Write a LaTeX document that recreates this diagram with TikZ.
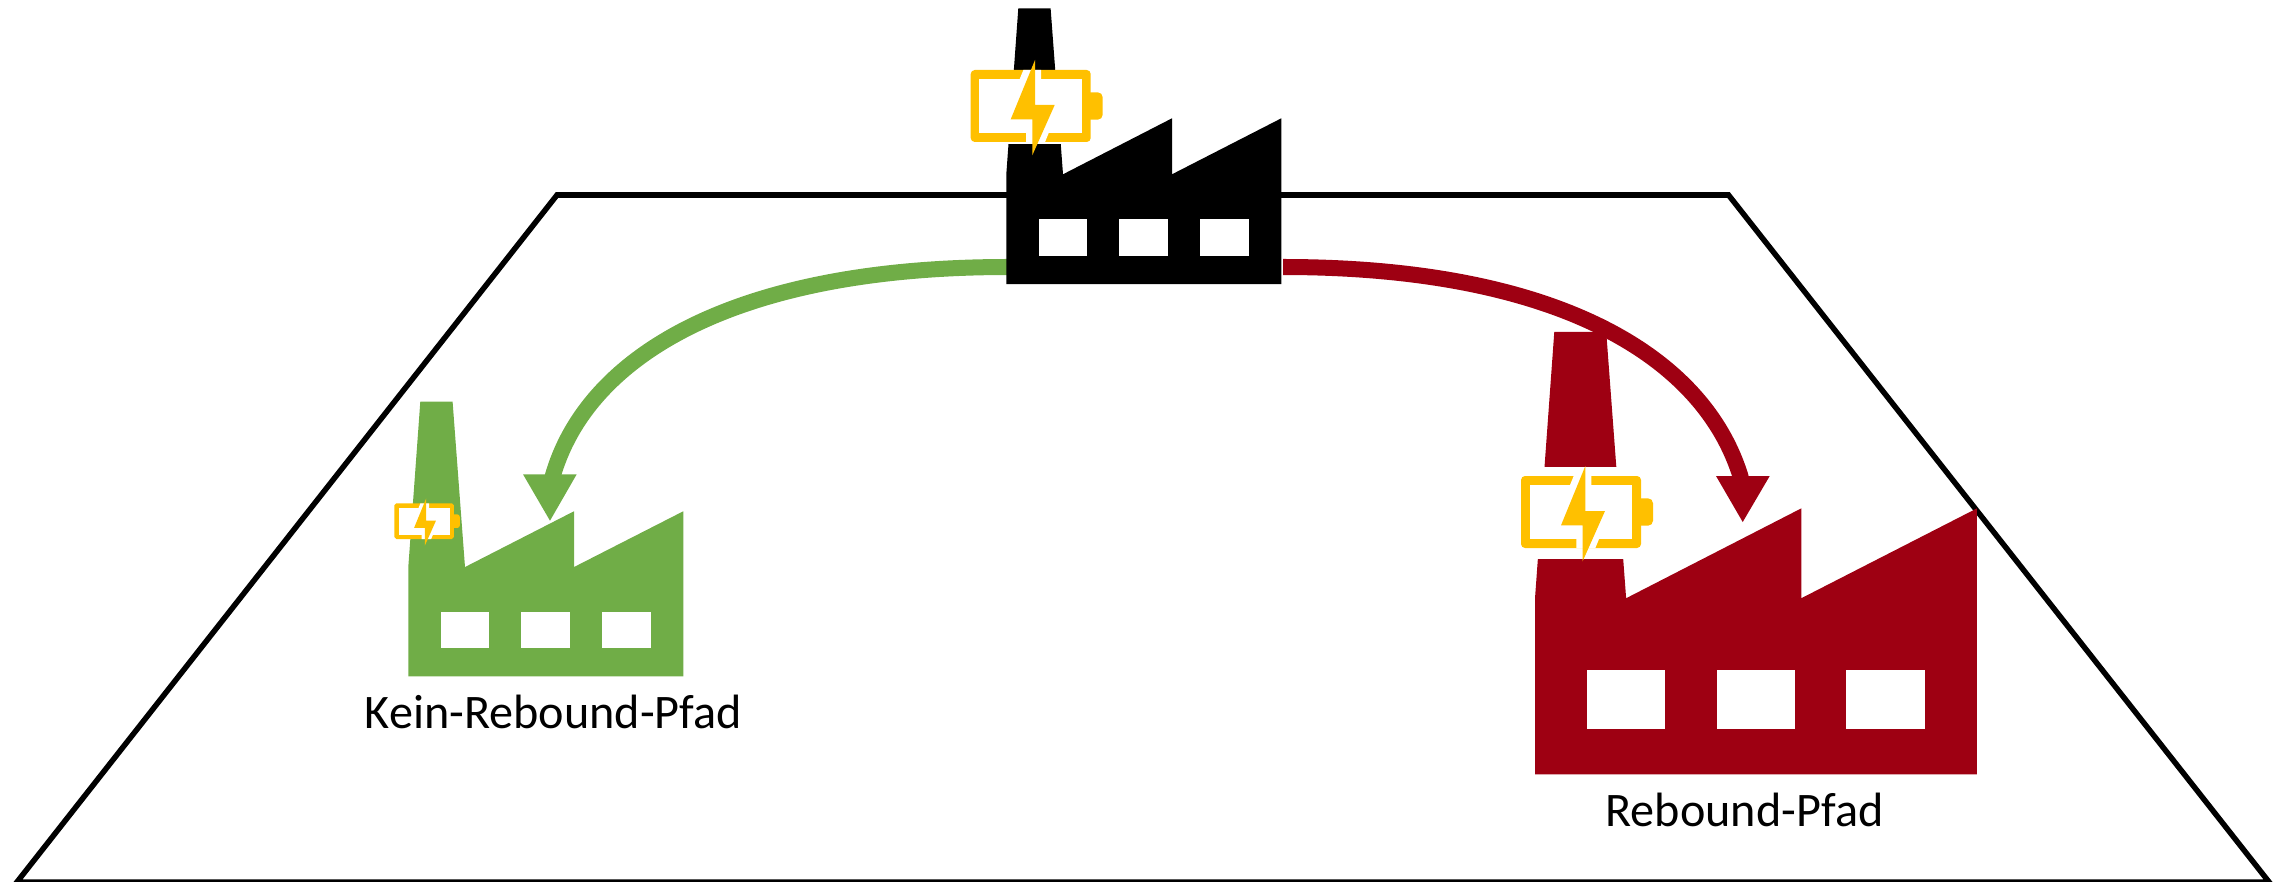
\documentclass[tikz,border=0pt]{standalone}
\usepackage{fontspec}
\setmainfont{Carlito}
\usetikzlibrary{arrows.meta}
\definecolor{pathgreen}{HTML}{70AD47}
\definecolor{pathred}{HTML}{9E0012}
\definecolor{batteryyellow}{HTML}{FFC000}

% #1,#2 lower left corner, #3 xscale, #4 yscale, #5 colour
\newcommand{\factoryicon}[5]{
  \begin{scope}[shift={(#1,#2)},xscale=#3,yscale=#4]
    \fill[#5] (0,0) -- (0,-109.7) -- (12,-275.7) -- (44.3,-275.7) -- (56.7,-109.7)
      -- (165.7,-165.7) -- (165.7,-109.7) -- (275,-165.7) -- (275,0) -- cycle;
    \foreach \w in {32.3,113,193.7} {
      \fill[white] (\w,-28.3) rectangle ++(48.7,-36.7);
    }
  \end{scope}
}

% #1,#2 upper left corner of the cell, #3 scale
\newcommand{\batteryicon}[3]{
  \begin{scope}[shift={(#1,#2)},scale=#3]
    \fill[batteryyellow,rounded corners=#3*0.5mm] (112,22.3) rectangle (132,49.7);
    \fill[batteryyellow,rounded corners=#3*0.4mm] (0,0) rectangle (120,72);
    \fill[white] (8.7,8.7) rectangle (111.3,63.3);
    % Gaps in the outline beside the bolt.
    \fill[white] (52.7,-0.1) -- (70.3,-0.1) -- (70.3,9) -- (49,9) -- cycle;
    \fill[white] (55.3,63) -- (78,63) -- (74.3,72.1) -- (55.3,72.1) -- cycle;
    \fill[batteryyellow] (64.3,-10) -- (64.3,35) -- (84,35) -- (61.6,85.3)
      -- (61.6,49.3) -- (40,49.3) -- cycle;
  \end{scope}
}

\begin{document}
\begin{tikzpicture}[
  x=0.01cm,
  y=-0.01cm,
  line join=miter,
  plane/.style={draw=black,line width=0.055cm},
  greenpath/.style={draw=pathgreen,line width=0.16cm},
  redpath/.style={draw=pathred,line width=0.16cm},
  pathlabel/.style={anchor=base,font=\fontsize{13.7pt}{16pt}\selectfont,inner sep=0pt}
]
  \useasboundingbox (0,0) rectangle (2285,882);

  % Plane behind the factories.
  \coordinate (planeBL) at (17,882);
  \coordinate (planeTL) at (557,195);
  \coordinate (planeTR) at (1728.5,195);
  \coordinate (planeBR) at (2269,882);
  \draw[plane] (planeBL) -- (planeTL) -- (planeTR) -- (planeBR) -- cycle;

  % Ends of the two paths.
  \coordinate (greenstart) at (1008,267);
  \coordinate (greenbase) at (552.5,477);
  \coordinate (greenL) at (523,474.3);
  \coordinate (greenR) at (576.7,474.3);
  \coordinate (greentip) at (550,520.7);
  \coordinate (redstart) at (1283,267);
  \coordinate (redbase) at (1741,478);
  \coordinate (redL) at (1716,476);
  \coordinate (redR) at (1769.7,476);
  \coordinate (redtip) at (1742.7,522);

  \draw[greenpath] (greenstart) .. controls (731,267) and (586,358) .. (greenbase);
  \fill[pathgreen] (greenL) -- (greenR) -- (greentip) -- cycle;
  \draw[redpath] (redstart) .. controls (1560,267) and (1705,358) .. (redbase);
  \fill[pathred] (redL) -- (redR) -- (redtip) -- cycle;

  % Factories with the chimney cut out behind the battery.
  \factoryicon{1006.3}{284}{1}{1}{black}
  \fill[white] (1000,70) rectangle (1070,144);
  \batteryicon{970.7}{70}{1}

  \factoryicon{408.3}{676.3}{1}{0.996}{pathgreen}
  \batteryicon{394.3}{503.3}{0.496}

  \factoryicon{1535}{774.3}{1.607}{1.605}{pathred}
  \fill[white] (1530,466.7) rectangle (1640,559.3);
  \batteryicon{1521}{476}{1}

  % Labels.
  \node[pathlabel] (keinlabel) at (553.5,728) {Kein-Rebound-Pfad};
  \node[pathlabel] (reboundlabel) at (1744.5,826) {Rebound-Pfad};
\end{tikzpicture}
\end{document}
